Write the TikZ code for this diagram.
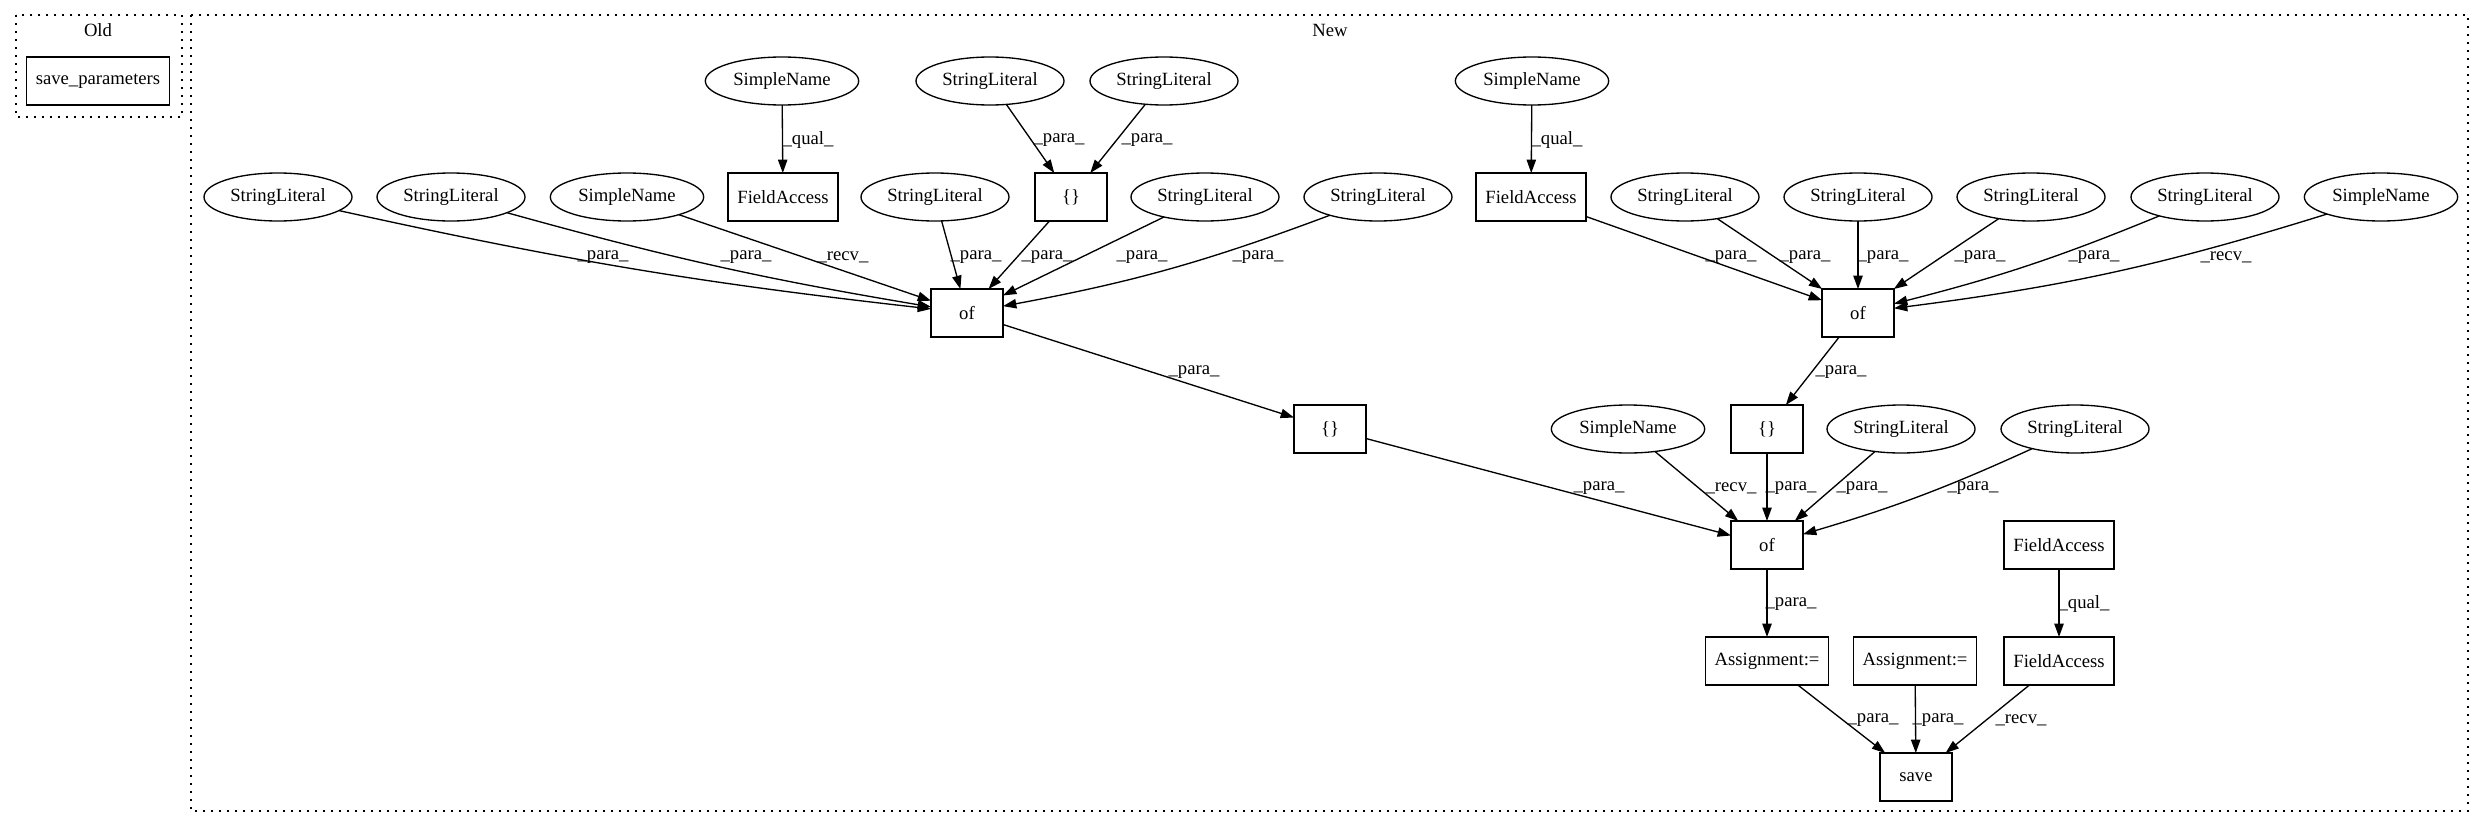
\documentclass[tikz,border=0pt]{standalone}
\usepackage{fontspec}
\setmainfont{Liberation Serif}
\usepackage{tikz}
\usetikzlibrary{shapes.geometric,arrows.meta}

\begin{document}
\begin{tikzpicture}[x=0.75pt,y=-0.75pt,inner sep=0pt,outer sep=0pt,
    every node/.style={font=\fontsize{14}{16}\selectfont},
    oval/.style={draw,ellipse,line width=1pt,minimum height=36pt},
    str_lit/.style={oval,minimum width=111pt},
    simple_name/.style={oval,minimum width=115pt},
    blk/.style={draw,rectangle,line width=1pt,minimum height=36pt,minimum width=54pt,inner xsep=7pt},
    arr/.style={-{Triangle[length=10pt,width=7pt]},line width=1pt},
    lbl/.style={fill=none},
    cluster/.style={dash pattern=on 1.2pt off 4.8pt,line width=1.2pt}]
  \useasboundingbox (0,0) rectangle (2485,828);
  % clusters
  \draw[cluster] (16,15) rectangle (182,117);
  \node (old_title) at (98,30) {Old};
  \draw[cluster] (191,15) rectangle (2468,811);
  \node (new_title) at (1330,30) {New};
  % old
  \node[blk] (save_params) at (98,81) {save\_parameters};
  % new, first row
  \node[simple_name] (sn_qual_a) at (782,81) {SimpleName};
  \node[str_lit] (sl_br_a) at (990,81) {StringLiteral};
  \node[str_lit] (sl_br_b) at (1164,81) {StringLiteral};
  \node[simple_name] (sn_qual_b) at (1532,81) {SimpleName};
  % second row
  \node[str_lit] (sl_a) at (278,197) {StringLiteral};
  \node[str_lit] (sl_b) at (451,197) {StringLiteral};
  \node[simple_name] (sn_recv_a) at (627,197) {SimpleName};
  \node[blk] (fa_a) at (783,197) {FieldAccess};
  \node[str_lit] (sl_c) at (935,197) {StringLiteral};
  \node[blk] (br_a) at (1071,197) {\{\}};
  \node[str_lit] (sl_d) at (1205,197) {StringLiteral};
  \node[str_lit] (sl_e) at (1378,197) {StringLiteral};
  \node[blk] (fa_b) at (1531,197) {FieldAccess};
  \node[str_lit] (sl_f) at (1685,197) {StringLiteral};
  \node[str_lit] (sl_g) at (1858,197) {StringLiteral};
  \node[str_lit] (sl_h) at (2031,197) {StringLiteral};
  \node[str_lit] (sl_i) at (2205,197) {StringLiteral};
  \node[simple_name] (sn_recv_b) at (2381,197) {SimpleName};
  % third row
  \node[blk] (of_a) at (967,313) {of};
  \node[blk] (of_b) at (1858,313) {of};
  % fourth row
  \node[blk] (br_b) at (1330,429) {\{\}};
  \node[simple_name] (sn_recv_c) at (1628,429) {SimpleName};
  \node[blk] (br_c) at (1767,429) {\{\}};
  \node[str_lit] (sl_j) at (1901,429) {StringLiteral};
  \node[str_lit] (sl_k) at (2075,429) {StringLiteral};
  % lower rows
  \node[blk] (of_c) at (1767,545) {of};
  \node[blk] (fa_c) at (2059,545) {FieldAccess};
  \node[blk] (assign_a) at (1767,661) {Assignment:=};
  \node[blk] (assign_b) at (1915,661) {Assignment:=};
  \node[blk] (fa_d) at (2059,661) {FieldAccess};
  \node[blk] (save_call) at (1916,777) {save};

  % edges
  \draw[arr] (sn_qual_a) -- (fa_a) node[lbl,at={(808,140)}] {\_qual\_};
  \draw[arr] (sl_br_a) -- (br_a) node[lbl,at={(1059,140)}] {\_para\_};
  \draw[arr] (sl_br_b) -- (br_a) node[lbl,at={(1147,140)}] {\_para\_};
  \draw[arr] (sn_qual_b) -- (fa_b) node[lbl,at={(1557,140)}] {\_qual\_};

  \draw[arr] (sl_a) to[bend right=3] (of_a) node[lbl,at={(603,257)}] {\_para\_};
  \draw[arr] (sl_b) to[bend right=3] (of_a) node[lbl,at={(746,257)}] {\_para\_};
  \draw[arr] (sn_recv_a) -- (of_a) node[lbl,at={(843,257)}] {\_recv\_};
  \draw[arr] (sl_c) -- (of_a) node[lbl,at={(976,257)}] {\_para\_};
  \draw[arr] (br_a) -- (of_a) node[lbl,at={(1047,257)}] {\_para\_};
  \draw[arr] (sl_d) -- (of_a) node[lbl,at={(1142,257)}] {\_para\_};
  \draw[arr] (sl_e) to[bend left=5] (of_a) node[lbl,at={(1258,257)}] {\_para\_};

  \draw[arr] (fa_b) -- (of_b) node[lbl,at={(1731,257)}] {\_para\_};
  \draw[arr] (sl_f) -- (of_b) node[lbl,at={(1805,257)}] {\_para\_};
  \draw[arr] (sl_g) -- (of_b) node[lbl,at={(1883,257)}] {\_para\_};
  \draw[arr] (sl_h) -- (of_b) node[lbl,at={(1980,257)}] {\_para\_};
  \draw[arr] (sl_i) to[bend left=4] (of_b) node[lbl,at={(2094,257)}] {\_para\_};
  \draw[arr] (sn_recv_b) to[bend left=5] (of_b) node[lbl,at={(2226,257)}] {\_recv\_};

  \draw[arr] (of_a) -- (br_b) node[lbl,at={(1194,372)}] {\_para\_};
  \draw[arr] (of_b) -- (br_c) node[lbl,at={(1841,372)}] {\_para\_};

  \draw[arr] (br_b) -- (of_c) node[lbl,at={(1599,488)}] {\_para\_};
  \draw[arr] (sn_recv_c) -- (of_c) node[lbl,at={(1731,488)}] {\_recv\_};
  \draw[arr] (br_c) -- (of_c) node[lbl,at={(1791,488)}] {\_para\_};
  \draw[arr] (sl_j) -- (of_c) node[lbl,at={(1862,488)}] {\_para\_};
  \draw[arr] (sl_k) to[bend left=4] (of_c) node[lbl,at={(1973,488)}] {\_para\_};

  \draw[arr] (of_c) -- (assign_a) node[lbl,at={(1791,604)}] {\_para\_};
  \draw[arr] (fa_c) -- (fa_d) node[lbl,at={(2084,604)}] {\_qual\_};

  \draw[arr] (assign_a) -- (save_call) node[lbl,at={(1873,720)}] {\_para\_};
  \draw[arr] (assign_b) -- (save_call) node[lbl,at={(1938,720)}] {\_para\_};
  \draw[arr] (fa_d) -- (save_call) node[lbl,at={(2021,720)}] {\_recv\_};
\end{tikzpicture}
\end{document}
